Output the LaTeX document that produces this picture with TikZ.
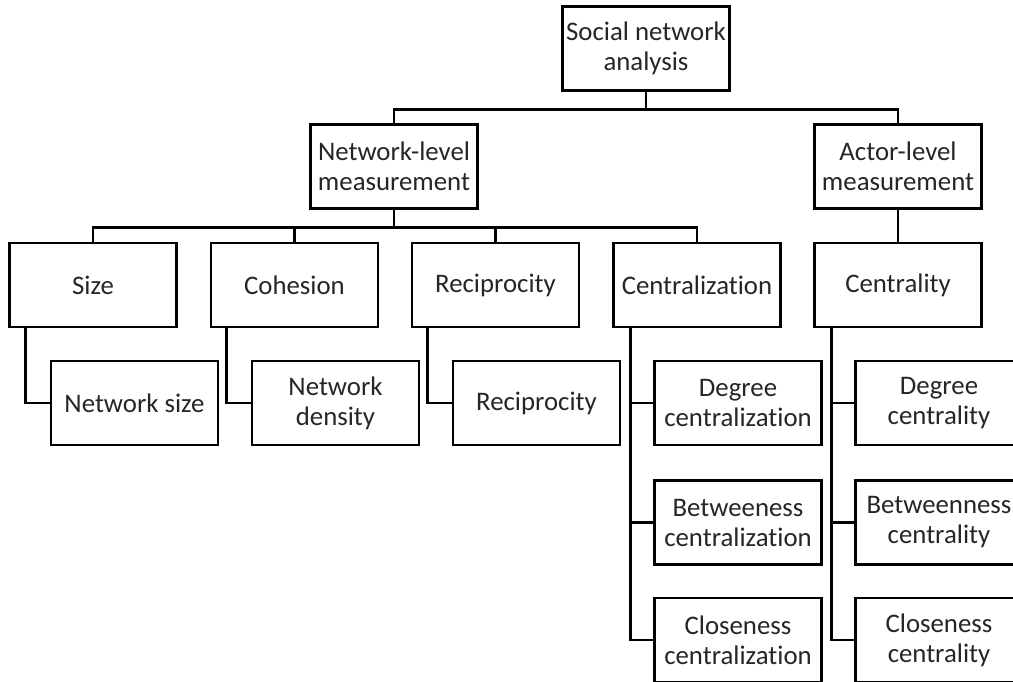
\documentclass[tikz,border=0pt]{standalone}
\usepackage{fontspec}
\setmainfont{Carlito}[RawFeature=-liga]
\begin{document}
\begin{tikzpicture}[x=1pt,y=-1pt,
  box/.style={draw=black, line width=2.6pt, fill=white, minimum width=167pt,
    minimum height=84pt, inner sep=0pt, align=center, text=black!85,
    font=\fontsize{26.8}{30}\selectfont},
  link/.style={draw=black, line width=2.6pt}]
\useasboundingbox (0,0) rectangle (1013,681);
\clip (0,0) rectangle (1013,681);

% root and measurement levels
\node[box] (sna) at (646,48.5) {Social network\\analysis};
\node[box] (nl) at (394,166.5) {Network-level\\measurement};
\node[box] (al) at (898,166.5) {Actor-level\\measurement};

% measure categories
\node[box] (size) at (93,285) {Size};
\node[box] (coh) at (294.5,285) {Cohesion};
\node[box] (rec) at (495.5,285) {Reciprocity};
\node[box] (cz) at (697,285) {Centralization};
\node[box] (cy) at (898,285) {Centrality};

% individual measures
\node[box] (nsize) at (134.5,403) {Network size};
\node[box] (dens) at (335.5,403) {Network\\density};
\node[box] (rec2) at (536.5,403) {Reciprocity};
\node[box] (degcz) at (738,403) {Degree\\centralization};
\node[box] (betcz) at (738,522.5) {Betweeness\\centralization};
\node[box] (clocz) at (738,640) {Closeness\\centralization};
\node[box] (degcy) at (939,403) {Degree\\centrality};
\node[box] (betcy) at (939,522.5) {Betweenness\\centrality};
\node[box] (clocy) at (939,640) {Closeness\\centrality};

% tree connectors
\draw[link] (sna.south) -- ++(0,17.5) -| (nl.north);
\draw[link] (sna.south) -- ++(0,17.5) -| (al.north);
\foreach \c in {size,coh,rec,cz}
  \draw[link] (nl.south) -- ++(0,17.5) -| (\c.north);
\draw[link] (al.south) -- (cy.north);

% side connectors to the measures
\draw[link] ([xshift=17pt]size.south west) |- (nsize.west);
\draw[link] ([xshift=17pt]coh.south west) |- (dens.west);
\draw[link] ([xshift=17pt]rec.south west) |- (rec2.west);
\foreach \m in {degcz,betcz,clocz}
  \draw[link] ([xshift=18pt]cz.south west) |- (\m.west);
\foreach \m in {degcy,betcy,clocy}
  \draw[link] ([xshift=18pt]cy.south west) |- (\m.west);
\end{tikzpicture}
\end{document}
